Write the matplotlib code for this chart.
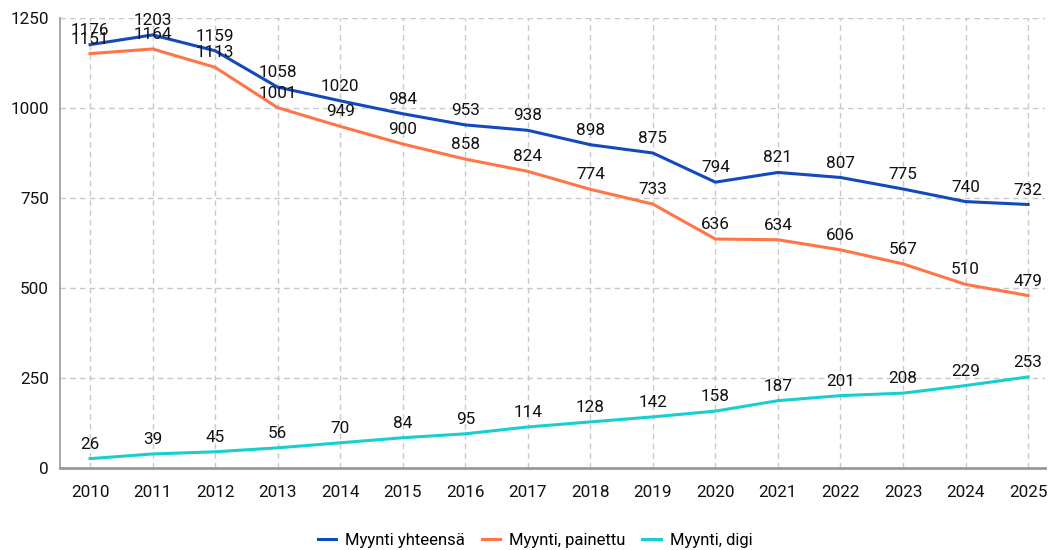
import matplotlib
matplotlib.use("Agg")
import matplotlib.pyplot as plt

years = [2010, 2011, 2012, 2013, 2014, 2015, 2016, 2017, 2018, 2019, 2020, 2021, 2022, 2023, 2024, 2025]
total = [1176, 1203, 1159, 1058, 1020, 984, 953, 938, 898, 875, 794, 821, 807, 775, 740, 732]
printed = [1151, 1164, 1113, 1001, 949, 900, 858, 824, 774, 733, 636, 634, 606, 567, 510, 479]
digital = [26, 39, 45, 56, 70, 84, 95, 114, 128, 142, 158, 187, 201, 208, 229, 253]
series_names = ["Myynti yhteensä", "Myynti, painettu", "Myynti, digi"]
colors = ["#1249BD", "#FF7547", "#17CFCF"]
yticks = [0, 250, 500, 750, 1000, 1250]

plt.rcParams['font.family'] = ['Roboto', 'DejaVu Sans']

fig = plt.figure(figsize=(10.54, 5.5), dpi=100)
ax = fig.add_axes([60/1054, 1 - 468/550, (1045-60)/1054, (468-18)/550])

fs = 12.3
for vals, name, c in zip([total, printed, digital], series_names, colors):
    ax.plot(years, vals, color=c, lw=2.2, label=name, solid_joinstyle='round')
    for x, v in zip(years, vals):
        ax.annotate(str(v), (x, v), xytext=(0, 5), textcoords='offset points',
                    ha='center', va='bottom', fontsize=fs, color='#111111')

ax.set_ylim(0, 1250)
ax.set_xlim(2009.52, 2025.27)
ax.set_yticks(yticks)
ax.set_xticks(years)
ax.set_xticklabels([str(y) for y in years])
ax.tick_params(axis='both', length=0, labelsize=fs, colors='#111111')
ax.tick_params(axis='x', pad=12)
ax.tick_params(axis='y', pad=8)
ax.grid(True, linestyle=(0, (4, 3)), color='#c8c8c8', lw=1)
ax.set_axisbelow(True)
for s in ['top', 'right']:
    ax.spines[s].set_visible(False)
ax.spines['left'].set_color('#999999')
ax.spines['bottom'].set_color('#999999')
ax.spines['left'].set_linewidth(1.2)
ax.spines['bottom'].set_linewidth(2)

fig.legend(loc='center', bbox_to_anchor=(535/1054, 1 - 540/550), ncol=3, frameon=False,
           fontsize=12, handlelength=1.1, columnspacing=1.0, handletextpad=0.55)

fig.savefig("out.png", dpi=100)
